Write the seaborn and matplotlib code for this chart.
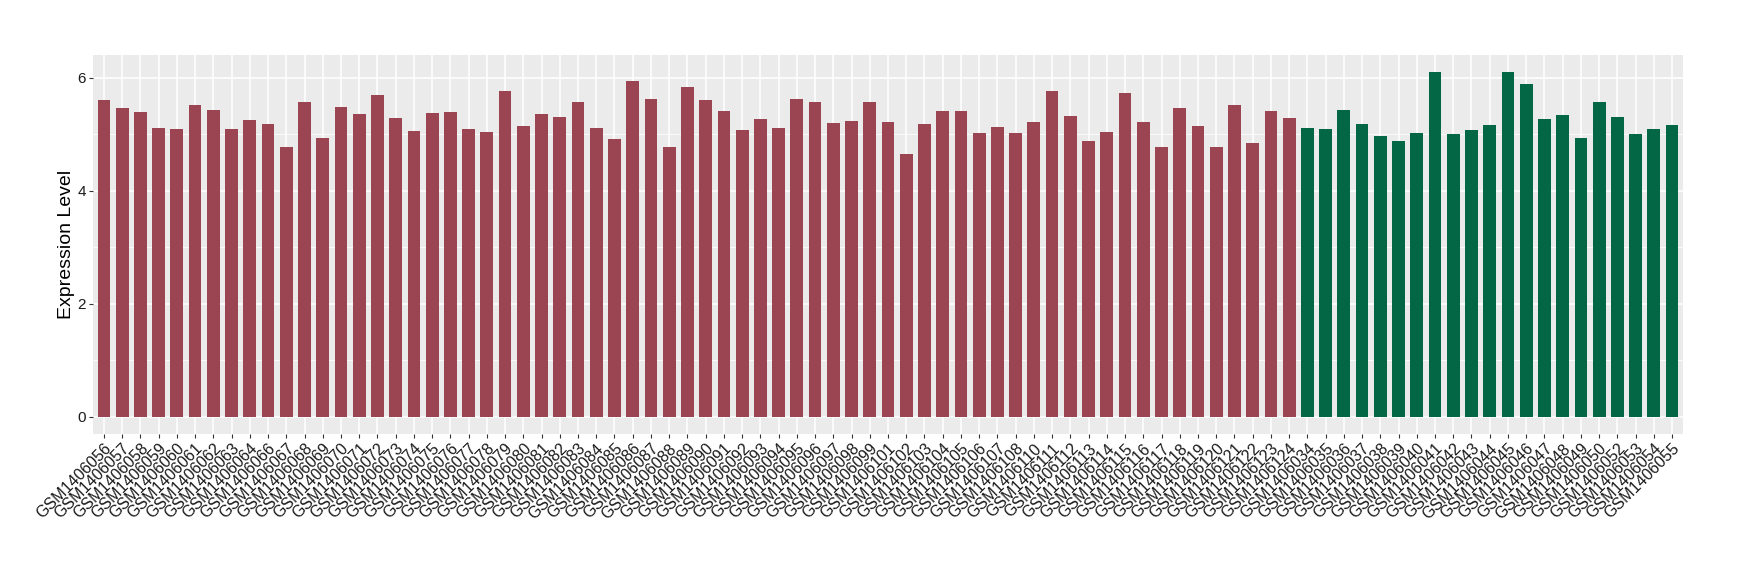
import pandas as pd
import matplotlib.pyplot as plt
import seaborn as sns
from matplotlib.ticker import MultipleLocator

# Sample ids (tumour group first, then normal group, as in the original order)
group_a_samples = [
    "GSM1406056", "GSM1406057", "GSM1406058", "GSM1406059", "GSM1406060",
    "GSM1406061", "GSM1406062", "GSM1406063", "GSM1406064", "GSM1406066",
    "GSM1406067", "GSM1406068", "GSM1406069", "GSM1406070", "GSM1406071",
    "GSM1406072", "GSM1406073", "GSM1406074", "GSM1406075", "GSM1406076",
    "GSM1406077", "GSM1406078", "GSM1406079", "GSM1406080", "GSM1406081",
    "GSM1406082", "GSM1406083", "GSM1406084", "GSM1406085", "GSM1406086",
    "GSM1406087", "GSM1406088", "GSM1406089", "GSM1406090", "GSM1406091",
    "GSM1406092", "GSM1406093", "GSM1406094", "GSM1406095", "GSM1406096",
    "GSM1406097", "GSM1406098", "GSM1406099", "GSM1406101", "GSM1406102",
    "GSM1406103", "GSM1406104", "GSM1406105", "GSM1406106", "GSM1406107",
    "GSM1406108", "GSM1406110", "GSM1406111", "GSM1406112", "GSM1406113",
    "GSM1406114", "GSM1406115", "GSM1406116", "GSM1406117", "GSM1406118",
    "GSM1406119", "GSM1406120", "GSM1406121", "GSM1406122", "GSM1406123",
    "GSM1406124",
]
group_a_values = [
    5.60, 5.47, 5.40, 5.11, 5.10, 5.52, 5.44, 5.10, 5.26, 5.19,
    4.78, 5.58, 4.94, 5.49, 5.36, 5.70, 5.29, 5.06, 5.38, 5.40,
    5.10, 5.04, 5.76, 5.15, 5.36, 5.31, 5.58, 5.11, 4.92, 5.95,
    5.63, 4.78, 5.83, 5.61, 5.42, 5.08, 5.28, 5.11, 5.63, 5.58,
    5.20, 5.24, 5.58, 5.22, 4.65, 5.19, 5.42, 5.42, 5.03, 5.13,
    5.03, 5.22, 5.77, 5.33, 4.88, 5.04, 5.74, 5.22, 4.78, 5.47,
    5.15, 4.78, 5.52, 4.85, 5.42, 5.29,
]

group_b_samples = [
    "GSM1406034", "GSM1406035", "GSM1406036", "GSM1406037", "GSM1406038",
    "GSM1406039", "GSM1406040", "GSM1406041", "GSM1406042", "GSM1406043",
    "GSM1406044", "GSM1406045", "GSM1406046", "GSM1406047", "GSM1406048",
    "GSM1406049", "GSM1406050", "GSM1406052", "GSM1406053", "GSM1406054",
    "GSM1406055",
]
group_b_values = [
    5.11, 5.10, 5.44, 5.19, 4.97, 4.88, 5.03, 6.10, 5.01, 5.08,
    5.17, 6.10, 5.90, 5.28, 5.35, 4.94, 5.58, 5.31, 5.01, 5.10,
    5.17,
]

colors = {"A": "#9B4452", "B": "#036644"}

data = pd.DataFrame({
    "sample": group_a_samples + group_b_samples,
    "value": group_a_values + group_b_values,
    "group": ["A"] * len(group_a_samples) + ["B"] * len(group_b_samples),
})

plt.rcParams["font.family"] = ["Liberation Sans", "DejaVu Sans"]

fig = plt.figure(figsize=(17.4, 5.8), dpi=100)
ax = fig.add_axes([93 / 1740, 1 - 434 / 580, 1590 / 1740, 379 / 580])

sns.barplot(
    data=data, x="sample", y="value", hue="group",
    order=list(data["sample"]), palette=colors,
    dodge=False, width=0.7, legend=False, saturation=1,
    edgecolor="none", ax=ax,
)

# ggplot-like grey panel
ax.set_facecolor("#EBEBEB")
for s in ax.spines.values():
    s.set_visible(False)
ax.set_axisbelow(True)
ax.yaxis.set_major_locator(MultipleLocator(2))
ax.yaxis.set_minor_locator(MultipleLocator(1))
ax.grid(which="major", color="white", linewidth=1.1)
ax.grid(which="minor", axis="y", color="white", linewidth=0.55)

ax.set_xlim(-0.6, len(data) - 0.4)
ax.set_ylim(-0.305, 6.405)

ax.tick_params(axis="both", which="major", length=3, width=0.8, color="#333333")
ax.tick_params(axis="y", which="minor", length=0)
ax.tick_params(axis="y", labelsize=11, labelcolor="#1a1a1a", pad=2)
ax.tick_params(axis="x", labelsize=11.5, labelcolor="#1a1a1a", pad=2)
plt.setp(ax.get_xticklabels(), rotation=45, ha="right", va="top",
         rotation_mode="anchor")

ax.set_xlabel("")
ax.set_ylabel("Expression Level", fontsize=14, labelpad=2)

plt.savefig("out.png", dpi=100)
